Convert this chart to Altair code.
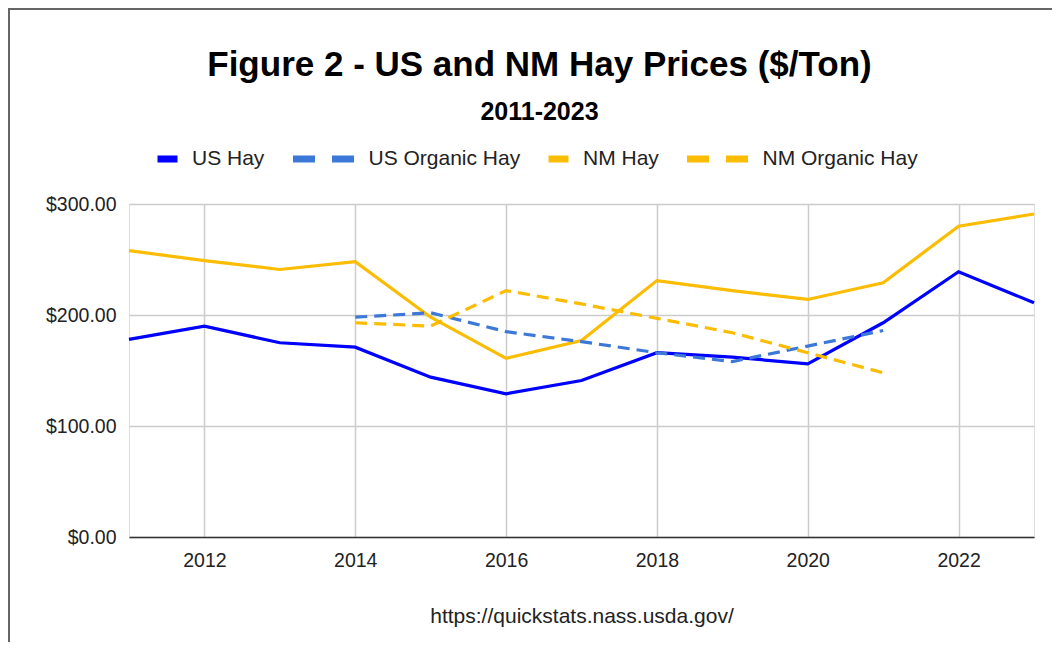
import altair as alt
import pandas as pd

years = list(range(2011, 2024))
us_hay = [178, 190, 175, 171, 144, 129, 141, 166, 162, 156, 193, 239, 211]
nm_hay = [258, 249, 241, 248, 198, 161, 177, 231, 222, 214, 229, 280, 291]
org_years = list(range(2014, 2022))
us_organic = [198, 202, 185, 176, 166, 158, 172, 186]
nm_organic = [193, 190, 222, 210, 197, 184, 166, 148]

series_names = ["US Hay", "US Organic Hay", "NM Hay", "NM Organic Hay"]
series_colors = ["#0000ff", "#3c78d8", "#fbbc04", "#fbbc04"]
organic_names = ["US Organic Hay", "NM Organic Hay"]
legend_sizes = [400, 3721, 400, 3721]
legend_dash = [[1, 0], [22, 17], [1, 0], [22, 17]]
x_ticks = [2012, 2014, 2016, 2018, 2020, 2022]
y_ticks = [0, 100, 200, 300]

rows = []
for name, yrs, vals in [
    ("US Hay", years, us_hay),
    ("US Organic Hay", org_years, us_organic),
    ("NM Hay", years, nm_hay),
    ("NM Organic Hay", org_years, nm_organic),
]:
    for y, v in zip(yrs, vals):
        rows.append({"year": y, "price": v, "series": name})
df = pd.DataFrame(rows)
df["organic"] = df["series"].isin(organic_names)

FONT = "Liberation Sans"

x_enc = alt.X(
    "year:Q",
    scale=alt.Scale(domain=[2011, 2023], nice=False, zero=False),
    axis=alt.Axis(
        values=x_ticks, format="d", title="https://quickstats.nass.usda.gov/",
        titleFont=FONT, titleFontSize=21, titleFontWeight="normal", titleColor="#222222",
        titlePadding=36,
        labelFont=FONT, labelFontSize=19.5, labelColor="#222222", labelPadding=14,
        grid=True, gridColor="#cccccc", gridWidth=1.5,
        domain=True, domainColor="#333333", domainWidth=1.5, ticks=False,
    ),
)
y_enc = alt.Y(
    "price:Q",
    scale=alt.Scale(domain=[0, 300], nice=False),
    axis=alt.Axis(
        values=y_ticks, format="$,.2f", title=None,
        labelFont=FONT, labelFontSize=19.5, labelColor="#222222", labelPadding=13,
        grid=True, gridColor="#cccccc", gridWidth=1.5,
        domain=False, ticks=False,
    ),
)
color_scale = alt.Scale(domain=series_names, range=series_colors)

legend = alt.Legend(
    title=None, orient="none", direction="horizontal",
    legendX=25, legendY=-57, padding=0, clipHeight=24,
    labelFont=FONT, labelFontSize=21, labelColor="#222222",
    labelOffset=11, columnPadding=24.5,
    symbolType="stroke", symbolStrokeWidth=7, symbolOpacity=1,
)

base = alt.Chart(df)

solid = base.transform_filter("!datum.organic").mark_line(strokeWidth=3.2).encode(
    x=x_enc, y=y_enc,
    color=alt.Color("series:N", scale=color_scale, legend=None),
)
dashed = base.transform_filter("datum.organic").mark_line(strokeWidth=3.2, strokeDash=[12, 7]).encode(
    x=x_enc, y=y_enc,
    color=alt.Color("series:N", scale=color_scale, legend=None),
)
legend_layer = base.mark_point(opacity=0, filled=False, shape="stroke", strokeWidth=7).encode(
    x=x_enc, y=y_enc,
    color=alt.Color("series:N", scale=color_scale, legend=legend),
    size=alt.Size("series:N", scale=alt.Scale(type="ordinal", domain=series_names, range=legend_sizes), legend=legend),
    strokeDash=alt.StrokeDash("series:N", scale=alt.Scale(domain=series_names, range=legend_dash), legend=legend),
)

border = alt.Chart(alt.Data(values=[{}])).mark_rule(color="#666666", strokeWidth=2, clip=False)
border_left = border.encode(x=alt.value(-120), y=alt.value(-196), y2=alt.value(460))
border_top = border.encode(x=alt.value(-121), x2=alt.value(940), y=alt.value(-195))

chart = alt.layer(legend_layer, solid, dashed, border_left, border_top).properties(
    width=905,
    height=333,
    autosize=alt.AutoSizeParams(type="none"),
    padding={"left": 121, "top": 196, "right": 18, "bottom": 105},
    title=alt.TitleParams(
        "Figure 2 - US and NM Hay Prices ($/Ton)",
        subtitle="2011-2023",
        font=FONT, fontSize=35, fontWeight="bold", color="#000000",
        subtitleFont=FONT, subtitleFontSize=25, subtitleFontWeight="bold", subtitleColor="#000000",
        subtitlePadding=17,
        anchor="middle", dx=-42, offset=-118,
    ),
).configure_view(stroke=None).configure(background="white")

chart.save("out.html", embed_options={"renderer": "svg", "actions": False})
